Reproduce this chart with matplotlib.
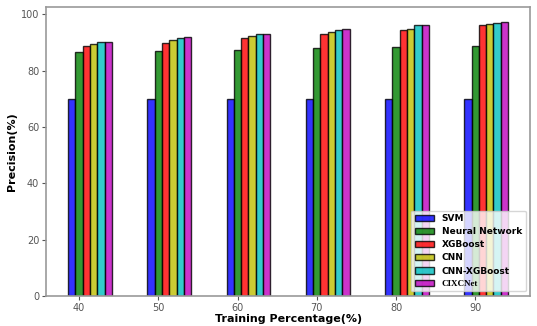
import numpy as np
import matplotlib
matplotlib.use('Agg')
import matplotlib.pyplot as plt

percent = ['40', '50', '60', '70', '80', '90']
svm = [70, 70, 70, 70, 70, 70]
nn = [86.5, 87.0, 87.2, 88.0, 88.3, 88.6]
xgb = [88.6, 89.8, 91.5, 93.0, 94.4, 96.0]
cnn = [89.4, 90.9, 92.3, 93.7, 94.7, 96.7]
cnn_xgb = [90.2, 91.6, 93.0, 94.4, 96.0, 96.9]
cixcnet = [90.2, 91.8, 93.0, 94.7, 96.0, 97.3]

series = [svm, nn, xgb, cnn, cnn_xgb, cixcnet]
names = ['SVM', 'Neural Network', 'XGBoost', 'CNN', 'CNN-XGBoost', 'CIXCNet']
colors = ['b', 'g', 'r', 'y', 'c', 'm']

fig, ax = plt.subplots(figsize=(5.37, 3.26), dpi=100)
x = np.arange(len(percent))
w = 0.092
for i, (vals, nm, col) in enumerate(zip(series, names, colors)):
    ax.bar(x + i * w, vals, w, color=col, alpha=0.8, edgecolor='black', label=nm)

ax.set_xticks(x + w)
ax.set_xticklabels(percent)
ax.set_ylim(0, 102.5)
ax.set_xlabel('Training Percentage(%)', fontweight='bold', fontsize=8, labelpad=1)
ax.set_ylabel('Precision(%)', fontweight='bold', fontsize=8, labelpad=3)
ax.tick_params(labelsize=7, colors='#555555', length=3, pad=2)
for s in ax.spines.values():
    s.set_color('#999999')
    s.set_linewidth(1.2)

leg = ax.legend(loc='lower right', prop={'weight': 'bold', 'size': 6.5},
                labelspacing=0.45, handlelength=2.2)
texts = leg.get_texts()
texts[-1].set_fontfamily('Liberation Serif')

fig.subplots_adjust(left=0.086, right=0.987, top=0.978, bottom=0.092)
fig.savefig('out.png')
